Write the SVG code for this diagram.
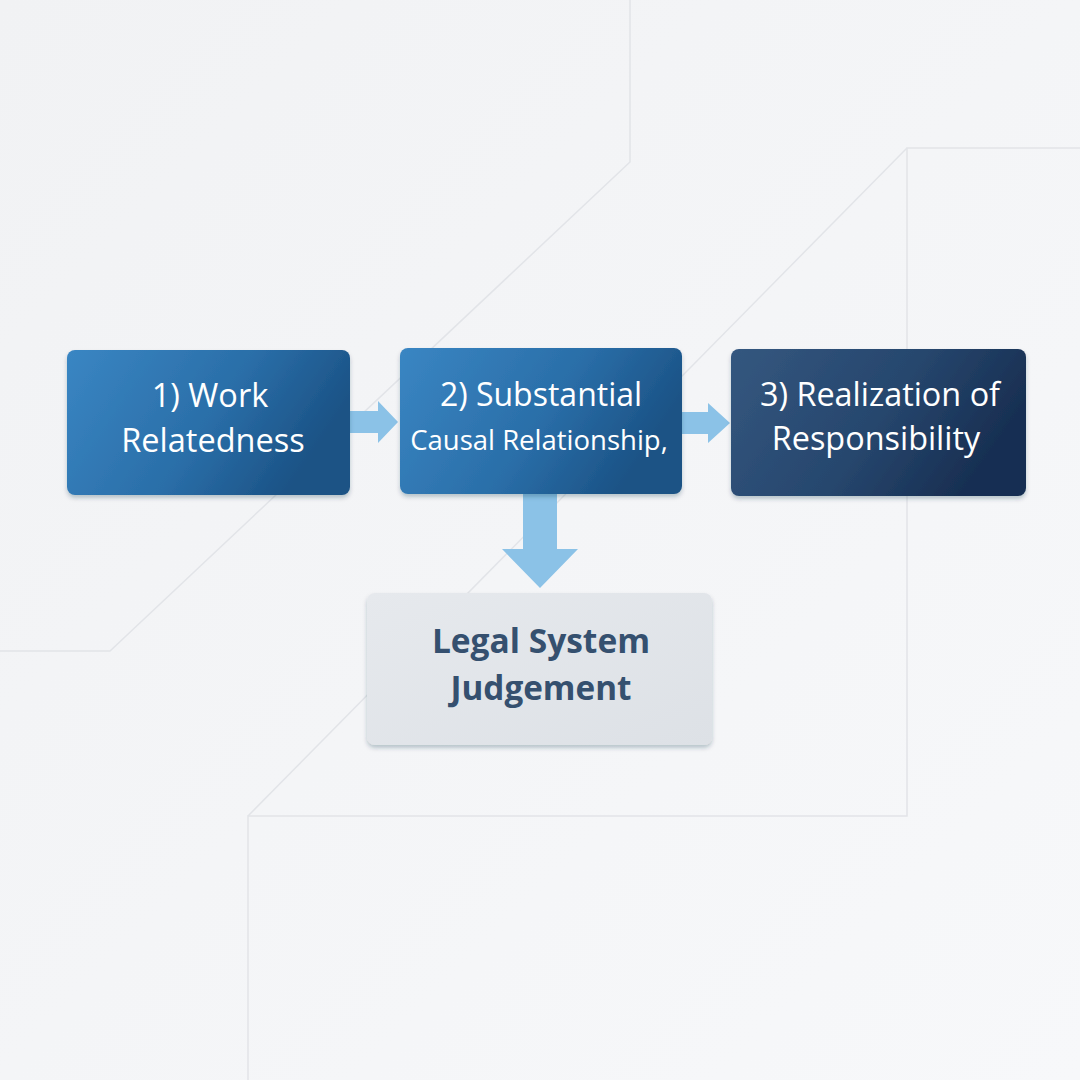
<svg xmlns="http://www.w3.org/2000/svg" width="1080" height="1080" viewBox="0 0 1080 1080">
<defs>
<linearGradient id="bg" x1="0" y1="0" x2="1" y2="1">
<stop offset="0" stop-color="#f1f2f4"/>
<stop offset="1" stop-color="#f7f8fa"/>
</linearGradient>
<linearGradient id="blue" x1="0" y1="0" x2="1" y2="0.35">
<stop offset="0" stop-color="#3a86c3"/>
<stop offset="0.6" stop-color="#2a6ea8"/>
<stop offset="1" stop-color="#1b5285"/>
</linearGradient>
<linearGradient id="navy" x1="0" y1="0" x2="1" y2="0.35">
<stop offset="0" stop-color="#34577f"/>
<stop offset="0.6" stop-color="#26466d"/>
<stop offset="1" stop-color="#182f52"/>
</linearGradient>
<linearGradient id="grey" x1="0" y1="0" x2="1" y2="1">
<stop offset="0" stop-color="#e6e9ed"/>
<stop offset="1" stop-color="#dde1e6"/>
</linearGradient>
<filter id="sh" x="-10%" y="-10%" width="120%" height="130%">
<feDropShadow dx="0" dy="3" stdDeviation="2" flood-color="#0b2a4a" flood-opacity="0.25"/>
</filter>
</defs>
<style>
.bgl{fill:none;stroke:#e2e4e8;stroke-width:1.5}
.arrow{fill:#8bc2e7}
.wt{font-family:"Open Sans","Noto Sans",sans-serif;fill:#ffffff;text-anchor:middle;font-weight:500}
.dt{font-family:"Open Sans","Noto Sans",sans-serif;fill:#35506f;text-anchor:middle;font-weight:bold}
</style>
<rect width="1080" height="1080" fill="url(#bg)"/>
<g id="background-lines">
<path class="bgl" d="M630,0 V162 L110,651 H0"/>
<path class="bgl" d="M1080,148 H907 V816 H248 V1080"/>
<path class="bgl" d="M907,148 L248,816"/>
</g>
<g id="connectors">
<path class="arrow" d="M350,411 H378 V401 L398,422 L378,443 V433 H350 Z"/>
<path class="arrow" d="M682,412 H708 V403 L730,423 L708,443 V434 H682 Z"/>
<path class="arrow" d="M523,494 H557 V549 H578 L540,588 L502,549 H523 Z"/>
</g>
<g id="node1">
<rect x="67" y="350" width="283" height="145" rx="8" fill="url(#blue)" filter="url(#sh)"/>
<text class="wt" x="210" y="407" font-size="32.5">1) Work</text>
<text class="wt" x="213" y="452" font-size="32.5">Relatedness</text>
</g>
<g id="node2">
<rect x="400" y="348" width="282" height="146" rx="8" fill="url(#blue)" filter="url(#sh)"/>
<text class="wt" x="541" y="406" font-size="32">2) Substantial</text>
<text class="wt" x="539" y="450" font-size="27.5">Causal Relationship,</text>
</g>
<g id="node3">
<rect x="731" y="349" width="295" height="147" rx="8" fill="url(#navy)" filter="url(#sh)"/>
<text class="wt" x="880" y="406" font-size="32.4">3) Realization of</text>
<text class="wt" x="876" y="450" font-size="32.4">Responsibility</text>
</g>
<g id="node4">
<rect x="367" y="593" width="345" height="152" rx="8" fill="url(#grey)" filter="url(#sh)"/>
<text class="dt" x="541" y="653" font-size="33.5">Legal System</text>
<text class="dt" x="541" y="700" font-size="33.3">Judgement</text>
</g>
</svg>
